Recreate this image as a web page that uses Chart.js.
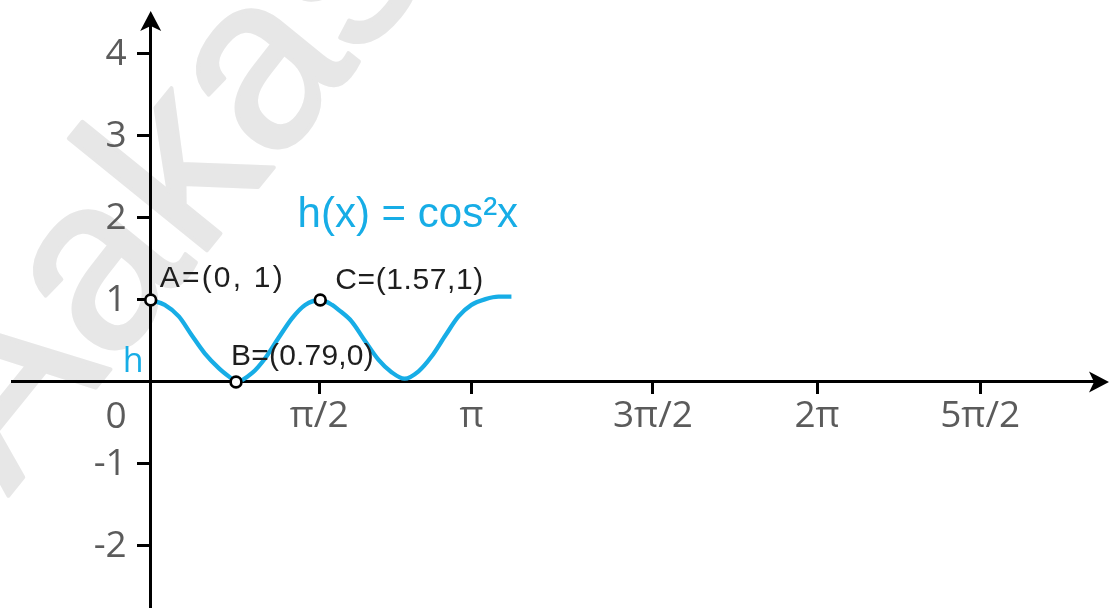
<!DOCTYPE html>
<html>
<head>
<meta charset="utf-8">
<script src="https://cdn.jsdelivr.net/npm/chart.js@4/dist/chart.umd.min.js"></script>
<style>
  html, body { margin: 0; padding: 0; background: #fff; overflow: hidden; }
  canvas { display: block; }
</style>
</head>
<body>
<canvas id="c" width="1109" height="608"></canvas>
<script>
// Samples along the curve h
const curveX = [0, 0.13, 0.26, 0.38, 0.50, 0.63, 0.75, 0.79, 0.94, 1.06, 1.18, 1.31, 1.43, 1.57,
                1.68, 1.74, 1.86, 1.98, 2.11, 2.23, 2.35, 2.48, 2.60, 2.73, 2.85, 2.97, 3.10, 3.22, 3.34];
const curveY = [1, 0.94, 0.80, 0.57, 0.35, 0.17, 0.04, 0, 0.11, 0.29, 0.53, 0.78, 0.94, 1,
                0.94, 0.88, 0.74, 0.51, 0.27, 0.12, 0.04, 0.13, 0.31, 0.57, 0.80, 0.94, 1.01, 1.04, 1.04];

// Marked points A, B, C
const pointX = [0, 0.79, 1.57];
const pointY = [1, 0, 1];
const pointLabels = ['A=(0, 1)', 'B=(0.79,0)', 'C=(1.57,1)'];

// Axis ticks
const xTickValues = [1.56, 2.97, 4.65, 6.17, 7.68];
const xTickLabels = ['π/2', 'π', '3π/2', '2π', '5π/2'];
const yTickValues = [-2, -1, 1, 2, 3, 4];
const yTickLabels = ['-2', '-1', '1', '2', '3', '4'];
const originLabel = '0';

const functionLabel = 'h(x) = cos²x';
const curveName = 'h';
const watermark = 'Aakash';

const BLUE = '#17ade6';
const GRAY = '#5b5b5b';
const TICK_FAMILY = '"Open Sans", "Noto Sans", sans-serif';
const TICK_FONT = { family: TICK_FAMILY, size: 37 };
const LABEL_FAMILY = '"Liberation Sans", Arial, sans-serif';

const noPadding = s => { s.paddingTop = s.paddingBottom = s.paddingLeft = s.paddingRight = 0; };

const decor = {
  id: 'decor',
  beforeDraw(chart) {
    const { ctx } = chart;
    ctx.save();
    ctx.fillStyle = '#fff';
    ctx.fillRect(0, 0, chart.width, chart.height);
    // faint diagonal watermark
    ctx.translate(8, 496);
    ctx.rotate(-51 * Math.PI / 180);
    ctx.font = `245px ${LABEL_FAMILY}`;
    ctx.fillStyle = '#e7e7e7';
    ctx.strokeStyle = '#e7e7e7';
    ctx.lineWidth = 4;
    ctx.lineJoin = 'round';
    ctx.textBaseline = 'alphabetic';
    ctx.fillText(watermark, 0, 0);
    ctx.strokeText(watermark, 0, 0);
    ctx.restore();
  },
  afterDraw(chart) {
    const { ctx } = chart;
    const xs = chart.scales.x, ys = chart.scales.y;
    const ox = xs.getPixelForValue(0), oy = ys.getPixelForValue(0);
    ctx.save();

    // arrowheads
    ctx.fillStyle = '#000';
    ctx.beginPath();
    ctx.moveTo(ox, 11);
    ctx.lineTo(ox + 10.5, 31);
    ctx.lineTo(ox, 26);
    ctx.lineTo(ox - 10.5, 31);
    ctx.closePath();
    ctx.fill();
    ctx.beginPath();
    ctx.moveTo(1109, oy);
    ctx.lineTo(1089, oy - 10.5);
    ctx.lineTo(1094, oy);
    ctx.lineTo(1089, oy + 10.5);
    ctx.closePath();
    ctx.fill();

    // y tick labels, right-aligned left of the tick marks
    ctx.font = `${TICK_FONT.size}px ${TICK_FAMILY}`;
    ctx.fillStyle = GRAY;
    ctx.textAlign = 'right';
    ctx.textBaseline = 'middle';
    yTickValues.forEach((v, i) => ctx.fillText(yTickLabels[i], ox - 24, ys.getPixelForValue(v)));
    ctx.fillText(originLabel, ox - 24, oy + 35);

    // curve name
    ctx.fillStyle = BLUE;
    ctx.textBaseline = 'alphabetic';
    ctx.font = `34px ${TICK_FAMILY}`;
    ctx.fillText(curveName, ox - 7, oy - 10);

    // function label
    ctx.textAlign = 'left';
    ctx.font = `42px ${LABEL_FAMILY}`;
    ctx.fillText(functionLabel, xs.getPixelForValue(1.36), ys.getPixelForValue(1.89));

    // point labels
    const offs = [[9, -13], [-5, -17], [15, -11]];
    const spacing = ['2.2px', '0.2px', '0.6px'];
    ctx.fillStyle = '#1e1e1e';
    ctx.font = `30px ${LABEL_FAMILY}`;
    pointLabels.forEach((t, i) => {
      const px = xs.getPixelForValue(pointX[i]), py = ys.getPixelForValue(pointY[i]);
      ctx.letterSpacing = spacing[i];
      ctx.fillText(t, px + offs[i][0], py + offs[i][1]);
    });
    ctx.letterSpacing = '0px';

    // marked points on top of labels
    pointX.forEach((x, i) => {
      const px = xs.getPixelForValue(x), py = ys.getPixelForValue(pointY[i]);
      ctx.beginPath();
      ctx.arc(px, py, 5.4, 0, Math.PI * 2);
      ctx.fillStyle = '#fff';
      ctx.fill();
      ctx.lineWidth = 2.7;
      ctx.strokeStyle = '#000';
      ctx.stroke();
    });
    ctx.restore();
  }
};

new Chart(document.getElementById('c'), {
  type: 'scatter',
  data: {
    datasets: [
      {
        data: curveX.map((x, i) => ({ x, y: curveY[i] })),
        showLine: true,
        borderColor: BLUE,
        borderWidth: 4.3,
        pointRadius: 0,
        cubicInterpolationMode: 'monotone'
      }
    ]
  },
  options: {
    responsive: false,
    animation: false,
    devicePixelRatio: 1,
    layout: { padding: { left: 12, top: 20, right: 16, bottom: 0 } },
    plugins: { legend: { display: false }, tooltip: { enabled: false } },
    scales: {
      x: {
        type: 'linear',
        min: -1.2843,
        max: 8.725,
        position: { y: 0 },
        afterBuildTicks: s => { s.ticks = xTickValues.map(v => ({ value: v })); },
        afterFit: noPadding,
        ticks: {
          callback: (v, i) => xTickLabels[i],
          color: GRAY,
          font: { family: TICK_FAMILY, size: 37, lineHeight: 1 },
          padding: 5,
          maxRotation: 0,
          autoSkip: false
        },
        grid: { drawOnChartArea: false, tickLength: 11, tickWidth: 3, color: '#000' },
        border: { color: '#000', width: 3 }
      },
      y: {
        type: 'linear',
        min: -2.7561,
        max: 4.4146,
        position: { x: 0 },
        afterBuildTicks: s => { s.ticks = yTickValues.map(v => ({ value: v })); },
        afterFit: noPadding,
        ticks: { display: false },
        grid: { drawOnChartArea: false, tickLength: 12, tickWidth: 3, color: '#000' },
        border: { color: '#000', width: 3 }
      }
    }
  },
  plugins: [decor]
});
</script>
</body>
</html>
